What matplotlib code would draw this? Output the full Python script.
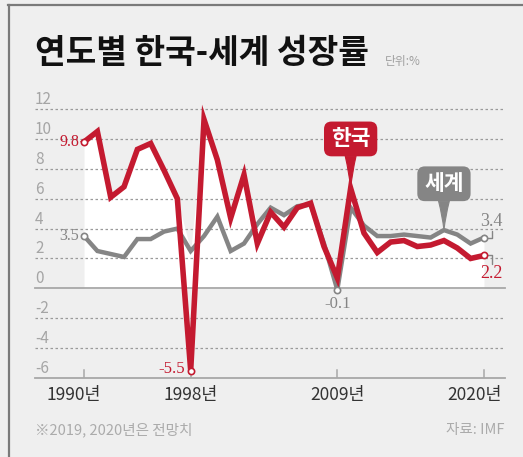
import numpy as np
import matplotlib.pyplot as plt
from matplotlib.lines import Line2D

plt.rcParams['font.family'] = ['Noto Sans CJK KR', 'DejaVu Sans']

years = np.arange(1990, 2021)
korea = [9.8, 10.5, 6.1, 6.8, 9.3, 9.7, 7.9, 6.0, -5.5, 11.3, 8.6, 4.7, 7.6, 3.0, 5.1, 4.1, 5.4, 5.7, 2.8, 0.7, 6.7, 3.7, 2.4, 3.1, 3.2, 2.8, 2.9, 3.2, 2.7, 2.0, 2.2]
world = [3.5, 2.5, 2.3, 2.1, 3.3, 3.3, 3.8, 4.0, 2.5, 3.5, 4.8, 2.5, 3.0, 4.3, 5.4, 4.9, 5.5, 5.6, 3.0, -0.1, 5.4, 4.2, 3.5, 3.5, 3.6, 3.5, 3.4, 3.9, 3.6, 3.0, 3.4]
yticks = [12, 10, 8, 6, 4, 2, 0, -2, -4, -6]
xticks = [1990, 1998, 2009, 2020]
xlabels = ['1990년', '1998년', '2009년', '2020년']

RED = '#c41a30'
GRAY = '#858585'
BG = '#efefef'
W, H = 523, 457

fig = plt.figure(figsize=(W / 100, H / 100), dpi=100, facecolor=BG)
ax = fig.add_axes([35 / W, (H - 378) / H, 470 / W, 277.9 / H])
ax.set_facecolor(BG)
ax.set_xlim(1986.32, 2021.58)
ax.set_ylim(-6, 12.6)
for s in ax.spines.values():
    s.set_visible(False)
ax.set_xticks([])
ax.set_yticks([])

# white area under the upper envelope
ax.fill_between(years, 0, np.maximum(korea, world), color='white', lw=0, zorder=1)

# grid
for v in yticks:
    if v in (0, -6):
        ax.axhline(v, color='#a8a8a8', lw=1.3, zorder=2, clip_on=False)
    else:
        ax.axhline(v, color='#9a9a9a', lw=0.9, ls=(0, (2, 2)), zorder=2)
    ax.annotate(str(v), (0, v), xycoords=('axes fraction', 'data'),
                xytext=(0, 1), textcoords='offset pixels',
                ha='left', va='bottom', fontsize=11, color='#a5a5a5')

# x ticks and labels
label_shift = [-10, 0, 0, -9]
for yr, lab, dx in zip(xticks, xlabels, label_shift):
    ax.add_line(Line2D([yr, yr], [-6, -5.45], color='#a8a8a8', lw=1.1, zorder=2))
    ax.annotate(lab, (yr, -6), xytext=(dx, -8), textcoords='offset pixels',
                ha='center', va='top', fontsize=12.5, color='#333333',
                annotation_clip=False)

# lines
ax.plot(years, world, color=GRAY, lw=3.2, zorder=3, solid_joinstyle='miter')
ax.plot(years, korea, color=RED, lw=4.0, zorder=4, solid_joinstyle='miter')

# end / extreme markers
k = dict(zip(years, korea))
w = dict(zip(years, world))
ax.plot([1990, 1998, 2020], [k[1990], k[1998], k[2020]], 'o', ms=4.5,
        mfc='white', mec=RED, mew=1.2, zorder=5)
ax.plot([1990, 2009, 2020], [w[1990], w[2009], w[2020]], 'o', ms=4.5,
        mfc='white', mec=GRAY, mew=1.2, zorder=5)

serif = 'Liberation Serif'
ax.annotate(f'{k[1990]}', (1990, k[1990]), xytext=(-5, 0), textcoords='offset pixels',
            ha='right', va='center', fontsize=11.5, color=RED, family=serif)
ax.annotate(f'{w[1990]}', (1990, w[1990]), xytext=(-5, 0), textcoords='offset pixels',
            ha='right', va='center', fontsize=11.5, color=GRAY, family=serif)
ax.annotate(f'{k[1998]}', (1998, k[1998]), xytext=(-6, 2), textcoords='offset pixels',
            ha='right', va='center', fontsize=12, color=RED, family=serif)
ax.annotate(f'{w[2009]}', (2009, w[2009]), xytext=(0, -14), textcoords='offset pixels',
            ha='center', va='center', fontsize=12, color=GRAY, family=serif)

# 2020 labels with small leaders
ax.annotate('', (2020, w[2020]), xytext=(8, 7), textcoords='offset pixels',
            arrowprops=dict(arrowstyle='-', color=GRAY, lw=1,
                            connectionstyle='angle,angleA=90,angleB=0,rad=0',
                            shrinkA=0, shrinkB=2.5))
ax.annotate(f'{w[2020]}', (2020, w[2020]), xytext=(7, 16), textcoords='offset pixels',
            ha='center', va='center', fontsize=13, color=GRAY, family=serif)
ax.annotate('', (2020, k[2020]), xytext=(8, -9), textcoords='offset pixels',
            arrowprops=dict(arrowstyle='-', color=GRAY, lw=1,
                            connectionstyle='angle,angleA=90,angleB=0,rad=0',
                            shrinkA=0, shrinkB=2.5))
ax.annotate(f'{k[2020]}', (2020, k[2020]), xytext=(7, -18), textcoords='offset pixels',
            ha='center', va='center', fontsize=13, color=RED, family=serif)

# callouts
ax.annotate('한국', (2010, k[2010]), xytext=(2010, 10.0), textcoords='data',
            ha='center', va='center', fontsize=15.5, fontweight='bold', color='white',
            bbox=dict(boxstyle='round,pad=0.32,rounding_size=0.35', fc=RED, ec='none'),
            arrowprops=dict(arrowstyle='wedge,tail_width=0.5,shrink_factor=0.4', fc=RED, ec=RED,
                            lw=0.8, shrinkA=0, shrinkB=0), zorder=6)
ax.annotate('세계', (2017, w[2017]), xytext=(2017, 7.0), textcoords='data',
            ha='center', va='center', fontsize=15.5, fontweight='bold', color='white',
            bbox=dict(boxstyle='round,pad=0.32,rounding_size=0.35', fc=GRAY, ec='none'),
            arrowprops=dict(arrowstyle='wedge,tail_width=0.5,shrink_factor=0.4', fc=GRAY, ec=GRAY,
                            lw=0.8, shrinkA=0, shrinkB=0), zorder=6)

# title and notes
fig.text(35 / W, 1 - 54 / H, '연도별 한국-세계 성장률', ha='left', va='center',
         fontsize=24, fontweight='black', color='#111111')
fig.text(385 / W, 1 - 62 / H, '단위:%', ha='left', va='center', fontsize=8.5, color='#a0a0a0')
fig.text(35 / W, 1 - 430 / H, '※2019, 2020년은 전망치', ha='left', va='center',
         fontsize=10.5, color='#ababab')
fig.text(505 / W, 1 - 430 / H, '자료: IMF', ha='right', va='center',
         fontsize=10.5, color='#ababab')

# frame
fig.add_artist(Line2D([8 / W, 1], [1 - 4.5 / H, 1 - 4.5 / H], transform=fig.transFigure,
                      color='#7a7a7a', lw=1.6))
fig.add_artist(Line2D([8.5 / W, 8.5 / W], [0, 1 - 4.5 / H], transform=fig.transFigure,
                      color='#7a7a7a', lw=1.6))

fig.savefig('out.png', dpi=100, facecolor=BG)
